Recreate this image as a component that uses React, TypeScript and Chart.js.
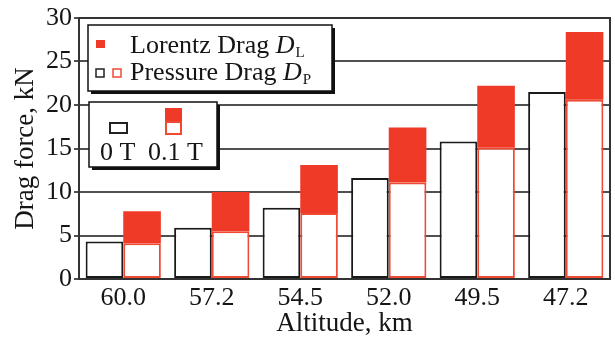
import React, { useEffect, useRef } from "react";
import { Chart, registerables } from "chart.js";

Chart.register(...registerables);

const categories = ["60.0", "57.2", "54.5", "52.0", "49.5", "47.2"];
const pressure0T = [4.3, 5.9, 8.2, 11.6, 15.8, 21.5];
const pressure01T = [4.1, 5.5, 7.6, 11.1, 15.1, 20.6];
const lorentz01T = [3.7, 4.5, 5.5, 6.3, 7.1, 7.8];
const yTicks = [0, 5, 10, 15, 20, 25, 30];

const FONT = "'Liberation Serif', 'Times New Roman', serif";
const RED = "#ee3a26";
const RED_LINE = "#f04a34";
const INK = "#151515";

function shadowBox(ctx: CanvasRenderingContext2D, x: number, y: number, w: number, h: number) {
  ctx.fillStyle = "#111";
  ctx.fillRect(x + 3, y + 3, w, h);
  ctx.fillStyle = "#fff";
  ctx.fillRect(x, y, w, h);
  ctx.strokeStyle = "#111";
  ctx.lineWidth = 1.5;
  ctx.strokeRect(x, y, w, h);
}

function labelWithSub(ctx: CanvasRenderingContext2D, main: string, sym: string, sub: string, x: number, y: number) {
  ctx.fillStyle = INK;
  ctx.textBaseline = "alphabetic";
  ctx.textAlign = "left";
  ctx.font = `26px ${FONT}`;
  ctx.fillText(main, x, y);
  let cx = x + ctx.measureText(main).width;
  ctx.font = `italic 26px ${FONT}`;
  ctx.fillText(sym, cx, y);
  cx += ctx.measureText(sym).width + 1;
  ctx.font = `15px ${FONT}`;
  ctx.fillText(sub, cx, y + 4);
}

const framePlugin = {
  id: "frame",
  afterDatasetsDraw(chart: any) {
    const { ctx, chartArea: a } = chart;
    ctx.save();
    ctx.strokeStyle = "#333";
    ctx.lineWidth = 2;
    ctx.beginPath();
    ctx.moveTo(a.left, a.top);
    ctx.lineTo(a.right, a.top);
    ctx.lineTo(a.right, a.bottom);
    ctx.stroke();
    ctx.restore();
  },
  afterDraw(chart: any) {
    const { ctx, chartArea: a } = chart;
    const L = a.left;
    const T = a.top;
    ctx.save();
    // legend 1
    shadowBox(ctx, L + 9, T + 7, 244, 66);
    ctx.fillStyle = RED;
    ctx.fillRect(L + 17, T + 22, 9, 8);
    labelWithSub(ctx, "Lorentz Drag ", "D", "L", L + 51, T + 35);
    ctx.lineWidth = 1.5;
    ctx.strokeStyle = "#222";
    ctx.strokeRect(L + 17, T + 51, 8, 8);
    ctx.strokeStyle = RED_LINE;
    ctx.strokeRect(L + 34, T + 51, 8, 8);
    labelWithSub(ctx, "Pressure Drag ", "D", "P", L + 51, T + 62);
    // legend 2
    shadowBox(ctx, L + 10, T + 84, 128, 65);
    ctx.lineWidth = 2;
    ctx.strokeStyle = "#222";
    ctx.strokeRect(L + 31, T + 105, 17, 10);
    ctx.fillStyle = RED;
    ctx.fillRect(L + 86, T + 90, 17, 13);
    ctx.strokeStyle = RED_LINE;
    ctx.strokeRect(L + 87, T + 104, 15, 12);
    ctx.fillStyle = INK;
    ctx.font = `26px ${FONT}`;
    ctx.textAlign = "left";
    ctx.textBaseline = "alphabetic";
    ctx.fillText("0 T", L + 21, T + 142);
    ctx.fillText("0.1 T", L + 69, T + 142);
    ctx.restore();
  },
};

export default function App() {
  const ref = useRef<HTMLCanvasElement>(null);
  useEffect(() => {
    document.body.style.margin = "0";
    let chart: Chart | null = null;
    let cancelled = false;
    const make = () => {
      if (cancelled) return;
      chart = new Chart(ref.current as HTMLCanvasElement, {
        type: "bar",
        data: {
          labels: categories,
          datasets: [
            {
              label: "Pressure Drag 0 T",
              data: pressure0T,
              backgroundColor: "#ffffff",
              borderColor: "#1a1a1a",
              borderWidth: 2,
              borderSkipped: false,
              stack: "a",
            },
            {
              label: "Pressure Drag 0.1 T",
              data: pressure01T,
              backgroundColor: "#ffffff",
              borderColor: RED_LINE,
              borderWidth: 2,
              borderSkipped: false,
              stack: "b",
            },
            {
              label: "Lorentz Drag 0.1 T",
              data: lorentz01T,
              backgroundColor: RED,
              borderWidth: 0,
              stack: "b",
            },
          ],
        },
        options: {
          responsive: false,
          animation: false,
          devicePixelRatio: 1,
          layout: { padding: { top: 18, right: 5, left: 0, bottom: 0 } },
          plugins: { legend: { display: false }, tooltip: { enabled: false } },
          datasets: { bar: { categoryPercentage: 0.85, barPercentage: 1 } },
          scales: {
            x: {
              stacked: true,
              grid: { display: false, drawTicks: false },
              border: { color: "#333", width: 2 },
              ticks: { color: INK, font: { family: FONT, size: 26 }, padding: 4 },
              title: {
                display: true,
                text: "Altitude, km",
                color: INK,
                font: { family: FONT, size: 27 },
                padding: { top: 0, bottom: 1 },
              },
              afterFit(scale: any) {
                scale.height = 62;
              },
            },
            y: {
              stacked: true,
              min: 0,
              max: 30,
              afterBuildTicks(scale: any) {
                scale.ticks = yTicks.map((v) => ({ value: v }));
              },
              grid: { color: "#505050", lineWidth: 2, tickLength: 5 },
              border: { color: "#333", width: 2 },
              ticks: { color: INK, font: { family: FONT, size: 26 }, padding: 2 },
              title: {
                display: true,
                text: "Drag force, kN",
                color: INK,
                font: { family: FONT, size: 27 },
                padding: { top: 10, bottom: 0 },
              },
              afterFit(scale: any) {
                scale.width = 79;
              },
            },
          },
        },
        plugins: [framePlugin],
      });
    };
    const fonts: any = (document as any).fonts;
    if (fonts && fonts.load) {
      Promise.all([
        fonts.load(`26px "Liberation Serif"`),
        fonts.load(`italic 26px "Liberation Serif"`),
      ])
        .catch(() => null)
        .then(make);
    } else {
      make();
    }
    return () => {
      cancelled = true;
      if (chart) chart.destroy();
    };
  }, []);
  return <canvas ref={ref} width={615} height={341} style={{ display: "block" }} />;
}
